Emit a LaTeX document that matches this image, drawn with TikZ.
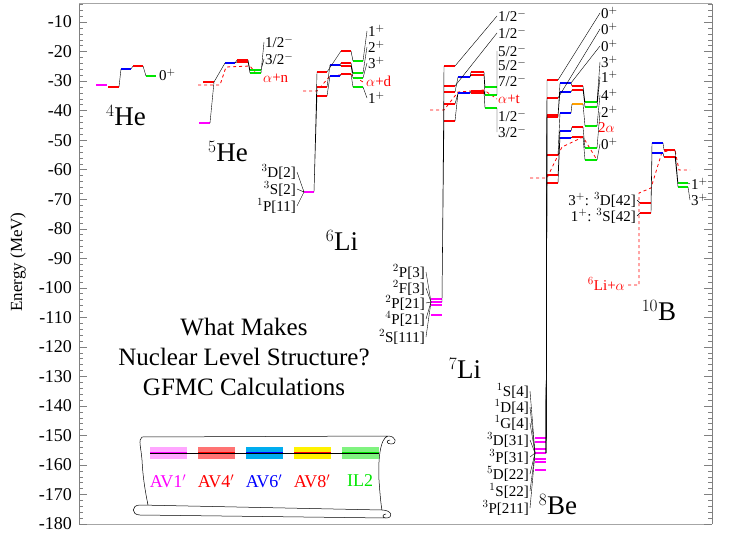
\documentclass[tikz,border=0pt]{standalone}
\usepackage{fontspec}
\setmainfont{Liberation Serif}
\begin{document}
\begin{tikzpicture}[x=1pt,y=-1pt,
  conn/.style={black,line width=0.4pt},
  thr/.style={red,dashed,line width=0.8pt},
  spin/.style={font=\fontsize{15}{15}\selectfont,inner sep=1pt,anchor=west},
  lspin/.style={font=\fontsize{15}{15}\selectfont,inner sep=1pt,anchor=east},
  nuc/.style={font=\fontsize{27}{27}\selectfont,inner sep=0pt},
  tick/.style={font=\fontsize{18}{18}\selectfont,anchor=east,inner sep=1pt}]
\definecolor{mg}{RGB}{255,0,255}
\definecolor{gr}{RGB}{0,230,0}
\definecolor{bl}{RGB}{0,0,255}
\definecolor{org}{RGB}{255,160,0}
\useasboundingbox (0,0) rectangle (734,543);
\newcommand\lev[5]{\draw[#5,line width=2.2pt] (#2,#4) coordinate (#1l) -- (#3,#4) coordinate (#1r);}
% frame
\draw[gray!70,line width=1pt] (79,4) -- (712,4);
\draw[gray!70,line width=1pt] (79,524) -- (712,524);
\draw[gray,line width=0.8pt] (79,4) -- (79,524);
\draw[gray,line width=0.8pt] (712,4) -- (712,524);
\foreach \e in {-4,-6,...,-180}{
  \pgfmathsetmacro\yy{22+(-10-\e)*2.953}
  \draw[gray] (79,\yy) -- (83,\yy); \draw[gray] (712,\yy) -- (708,\yy);}
\foreach \e in {-10,-20,...,-180}{
  \pgfmathsetmacro\yy{22+(-10-\e)*2.953}
  \draw[gray] (79,\yy) -- (87,\yy); \draw[gray] (712,\yy) -- (704,\yy);
  \node[tick] (t\e) at (73,\yy) {\e};}
\node[rotate=90,font=\fontsize{17}{17}\selectfont] (ylab) at (18,262) {Energy (MeV)};
% ---- 4He
\lev{a1}{96}{107}{85}{mg}\lev{a2}{108}{119}{87}{red}\lev{a3}{121}{131}{69}{bl}
\lev{a4}{133}{143}{66}{red}\lev{a5}{146}{156}{76}{gr}
\draw[conn] (a2r)--(a3l) (a3r)--(a4l) (a4r)--(a5l);
\node[spin] (s4) at (158,75) {0$^+$};
\node[nuc] (n4) at (126,116) {$^4$He};
% ---- 5He
\draw[thr] (198,85) -- (220,85) -- (226,67) -- (250,66) -- (258,76);
\lev{b1}{199}{210}{123}{mg}\lev{b2}{203}{214}{82}{red}\lev{b3}{225}{235}{63}{bl}
\lev{b4}{237}{248}{60}{red}\lev{b5}{237}{248}{62}{red}
\lev{b6}{250}{261}{70}{gr}\lev{b7}{250}{261}{73}{gr}
\draw[conn] (b1r)--(b2r) (b2r)--(b3l) (b3r)--(b4l) (b3r)--(b5l) (b4r)--(b6l) (b5r)--(b7l);
\node[spin] (s5a) at (264,42) {1/2$^-$};\node[spin] (s5b) at (264,59) {3/2$^-$};
\node[spin,red] (s5c) at (262,78) {$\alpha$+n};
\draw[conn] (b6r)--(s5b.west) (b7r)--(s5a.west);
\node[nuc] (n5) at (228,152) {$^5$He};
% ---- 6Li
\draw[thr] (303,91) -- (317,91) -- (330,76) -- (350,74) -- (363,82);
\lev{c0}{304}{314}{192}{mg}
\lev{c1}{317}{327}{72}{red}\lev{c2}{317}{327}{87}{red}\lev{c3}{317}{327}{96}{red}
\lev{c4}{330}{340}{65}{bl}\lev{c5}{330}{340}{76}{bl}
\lev{c6}{341}{351}{51}{red}\lev{c7}{341}{351}{63}{red}\lev{c8}{341}{351}{66}{red}\lev{c9}{341}{351}{74}{red}
\lev{c10}{353}{363}{61}{gr}\lev{c11}{353}{363}{73}{gr}\lev{c12}{353}{363}{78}{gr}\lev{c13}{353}{363}{87}{gr}
\draw[conn] (c0r)--(c1l) (c0r)--(c2l) (c0r)--(c3l)
 (c1r)--(c6l) (c2r)--(c4l) (c3r)--(c5l) (c4r)--(c7l) (c4r)--(c8l) (c5r)--(c9l)
 (c6r)--(c10l) (c7r)--(c11l) (c8r)--(c12l) (c9r)--(c13l);
\node[spin] (s6a) at (367,31) {1$^+$};\node[spin] (s6b) at (367,47) {2$^+$};
\node[spin] (s6c) at (367,63) {3$^+$};\node[spin,red] (s6d) at (365,81) {$\alpha$+d};
\node[spin] (s6e) at (367,98) {1$^+$};
\draw[conn] (c10r)--(s6a.west) (c11r)--(s6b.west) (c12r)--(s6c.west) (c13r)--(s6e.west);
\node[lspin] (l6a) at (297,172) {$^3$D[2]};\node[lspin] (l6b) at (297,189) {$^3$S[2]};
\node[lspin] (l6c) at (297,206) {$^1$P[11]};
\draw[conn] (l6a.east)--(c0l) (l6b.east)--(c0l) (l6c.east)--(c0l);
\node[nuc] (n6) at (342,240) {$^6$Li};
% ---- 7Li
\draw[thr] (430,110) -- (444,110) -- (458,92) -- (484,90) -- (497,99);
\lev{d0}{431}{442}{299}{mg}\lev{d01}{431}{442}{302}{mg}\lev{d02}{431}{442}{305}{mg}\lev{d03}{431}{442}{315}{mg}
\lev{d1}{444}{455}{66}{red}\lev{d2}{444}{455}{86}{red}\lev{d3}{444}{455}{92}{red}\lev{d4}{444}{455}{104}{red}\lev{d5}{444}{455}{121}{red}
\lev{d6}{458}{470}{77}{bl}\lev{d7}{458}{470}{93}{bl}
\lev{d8}{471}{484}{72}{red}\lev{d9}{471}{484}{75}{red}\lev{d10}{471}{484}{91}{red}\lev{d11}{471}{484}{93}{red}
\lev{d12}{485}{497}{87}{gr}\lev{d13}{485}{497}{95}{gr}\lev{d14}{485}{497}{108}{gr}
\draw[conn] (d0r)--(d1l) (d0r)--(d2l) (d0r)--(d3l) (d01r)--(d4l) (d01r)--(d5l)
 (d3r)--(d6l) (d4r)--(d7l) (d5r)--(d7l) (d6r)--(d8l) (d6r)--(d9l) (d7r)--(d10l) (d7r)--(d11l)
 (d8r)--(d12l) (d9r)--(d13l) (d10r)--(d14l) (d11r)--(d14l);
\node[spin] (s7a) at (497,16) {1/2$^-$};\node[spin] (s7b) at (497,33) {1/2$^-$};
\node[spin] (s7c) at (497,51) {5/2$^-$};\node[spin] (s7d) at (497,65) {5/2$^-$};
\node[spin] (s7e) at (497,81) {7/2$^-$};\node[spin,red] (s7f) at (497,99) {$\alpha$+t};
\node[spin] (s7g) at (497,116) {1/2$^-$};\node[spin] (s7h) at (497,132) {3/2$^-$};
\draw[conn] (d1r)--(s7a.west) (d2r)--(s7b.west) (d12r)--(s7c.west) (d12r)--(s7d.west)
 (d13r)--(s7e.west) (d14r)--(s7g.west) (d14r)--(s7h.west);
\node[lspin] (l7a) at (426,272) {$^2$P[3]};\node[lspin] (l7b) at (426,288) {$^2$F[3]};
\node[lspin] (l7c) at (426,303) {$^2$P[21]};\node[lspin] (l7d) at (426,319) {$^4$P[21]};
\node[lspin] (l7e) at (426,337) {$^2$S[111]};
\foreach \n in {a,b,c,d,e}{\draw[conn] (l7\n.east)--(d01l);}
\node[nuc] (n7) at (465,368) {$^7$Li};
% ---- 8Be
\draw[thr] (530,178) -- (547,178) -- (562,147) -- (583,137) -- (597,160);
\foreach \yy [count=\i] in {438,442,449,453,459,462,470}{\lev{e0\i}{535}{546}{\yy}{mg}}
\lev{e1}{547}{558}{80}{red}\lev{e2}{547}{558}{98}{red}\lev{e3}{547}{558}{115}{red}\lev{e4}{547}{558}{117}{red}
\lev{e5}{547}{558}{155}{red}\lev{e6}{547}{558}{175}{red}\lev{e7}{547}{558}{183}{red}
\lev{e8}{560}{571}{83}{bl}\lev{e9}{560}{571}{92}{bl}\lev{e10}{560}{571}{113}{bl}\lev{e11}{560}{571}{131}{bl}\lev{e12}{560}{571}{138}{bl}
\lev{e13}{572}{583}{86}{red}\lev{e14}{572}{583}{90}{red}\lev{e15}{572}{583}{104}{org}\lev{e16}{572}{583}{127}{red}\lev{e17}{572}{583}{137}{red}
\lev{e18}{585}{597}{102}{gr}\lev{e19}{585}{597}{107}{gr}\lev{e20}{585}{597}{126}{gr}\lev{e21}{585}{597}{148}{gr}\lev{e22}{585}{597}{160}{gr}
\foreach \i in {1,...,7}{\draw[conn] (e04r)--(e\i l);}
\draw[conn] (e3r)--(e8l) (e4r)--(e9l) (e5r)--(e10l) (e6r)--(e11l) (e7r)--(e12l)
 (e8r)--(e13l) (e9r)--(e14l) (e10r)--(e15l) (e11r)--(e16l) (e12r)--(e17l)
 (e13r)--(e18l) (e14r)--(e19l) (e15r)--(e20l) (e16r)--(e21l) (e17r)--(e22l);
\node[spin] (s8a) at (600,13) {0$^+$};\node[spin] (s8b) at (600,29) {0$^+$};
\node[spin] (s8c) at (600,46) {0$^+$};\node[spin] (s8d) at (600,62) {3$^+$};
\node[spin] (s8e) at (600,77) {1$^+$};\node[spin] (s8f) at (600,95) {4$^+$};
\node[spin] (s8g) at (600,112) {2$^+$};\node[spin,red] (s8h) at (597,128) {2$\alpha$};
\node[spin] (s8i) at (600,144) {0$^+$};
\draw[conn] (e1r)--(s8a.west) (e2r)--(s8b.west) (e8r)--(s8c.west) (e18r)--(s8d.west)
 (e19r)--(s8e.west) (e20r)--(s8f.west) (e21r)--(s8g.west) (e22r)--(s8i.west);
\node[lspin] (l8a) at (530,391) {$^1$S[4]};\node[lspin] (l8b) at (530,407) {$^1$D[4]};
\node[lspin] (l8c) at (530,423) {$^1$G[4]};\node[lspin] (l8d) at (530,440) {$^3$D[31]};
\node[lspin] (l8e) at (530,457) {$^3$P[31]};\node[lspin] (l8f) at (530,474) {$^5$D[22]};
\node[lspin] (l8g) at (530,491) {$^1$S[22]};\node[lspin] (l8h) at (530,508) {$^3$P[211]};
\foreach \n in {a,b,c,d,e,f,g,h}{\draw[conn] (l8\n.east)--(e04l);}
\node[nuc] (n8) at (558,505) {$^8$Be};
% ---- 10B
\draw[thr] (628,285) -- (639,285) -- (639,193) -- (651,188) -- (662,152) -- (675,150) -- (679,170) -- (690,170);
\node[lspin,red] (s10t) at (626,284) {$^6$Li+$\alpha$};
\lev{f1}{640}{651}{203}{red}\lev{f2}{640}{651}{213}{red}
\lev{f3}{652}{663}{143}{bl}\lev{f4}{652}{663}{153}{bl}
\lev{f5}{664}{675}{150}{red}\lev{f6}{664}{675}{157}{red}
\lev{f7}{678}{688}{183}{gr}\lev{f8}{678}{688}{187}{gr}
\draw[conn] (f1r)--(f3l) (f2r)--(f4l) (f3r)--(f5l) (f4r)--(f6l) (f5r)--(f7l) (f6r)--(f8l);
\node[spin] (s10a) at (690,184) {1$^+$};\node[spin] (s10b) at (690,200) {3$^+$};
\draw[conn] (f7r)--(s10a.west) (f8r)--(s10b.west);
\node[lspin] (l10a) at (637,200) {3$^+$: $^3$D[42]};\node[lspin] (l10b) at (637,216) {1$^+$: $^3$S[42]};
\draw[conn] (l10a.east)--(f1l) (l10b.east)--(f2l);
\node[nuc] (n10) at (659,310) {$^{10}$B};
% ---- title
\node[font=\fontsize{25}{30}\selectfont,align=center] (title) at (244,357) {What Makes\\Nuclear Level Structure?\\GFMC Calculations};
% ---- legend scroll
\draw[line width=0.5pt] (142,437) .. controls (138,440) and (141,447) .. (142,460) .. controls (143,480) and (146,495) .. (148,505)
  (142,437) -- (388,436) .. controls (396,436) and (398,444) .. (391,444) .. controls (386,444) and (386,440) .. (390,440)
  (388,436) .. controls (380,438) and (378,460) .. (379,480) .. controls (380,495) and (381,505) .. (382,510)
  (140,505) -- (382,510) .. controls (392,510) and (394,518) .. (386,518) .. controls (382,518) and (382,514) .. (386,514)
  (140,505) .. controls (131,505) and (131,515) .. (140,515) -- (386,518);
\foreach \c/\d/\x [count=\i] in {mg!35/mg/150,red!55/red/198,cyan/bl/246,yellow/red/294,gr!50/gr/342}{
  \fill[\c] (\x,447) rectangle (\x+37,459);
  \draw[\d,line width=1.5pt] (\x,453) -- (\x+37,453);}
\draw[line width=0.4pt] (150,453) -- (379,453);
\node[text=mg,font=\fontsize{18}{18}\selectfont] (g1) at (168,481) {AV1$'$};
\node[text=red,font=\fontsize{18}{18}\selectfont] (g2) at (216,481) {AV4$'$};
\node[text=bl,font=\fontsize{18}{18}\selectfont] (g3) at (264,481) {AV6$'$};
\node[text=red,font=\fontsize{18}{18}\selectfont] (g4) at (312,481) {AV8$'$};
\node[text=gr,font=\fontsize{18}{18}\selectfont] (g5) at (360,481) {IL2};
\end{tikzpicture}
\end{document}
